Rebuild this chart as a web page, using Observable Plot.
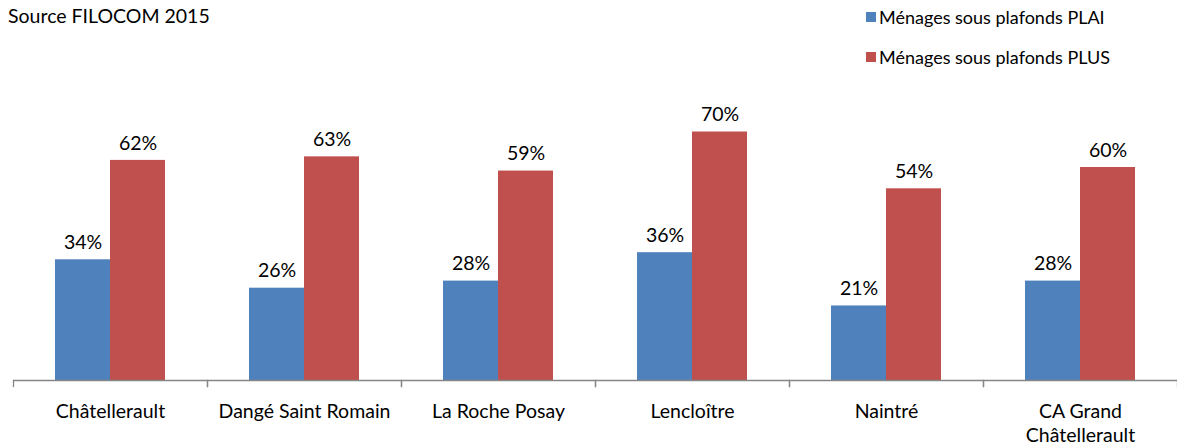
<!DOCTYPE html>
<html>
<head>
<meta charset="utf-8">
<script src="https://cdn.jsdelivr.net/npm/d3@7"></script>
<script src="https://cdn.jsdelivr.net/npm/@observablehq/plot@0.6"></script>
<style>
  html, body { margin: 0; padding: 0; background: #fff; }
  #wrap { position: relative; width: 1177px; height: 448px; overflow: hidden; font-family: Lato, "Noto Sans", sans-serif; color: #000; }
  #source { position: absolute; left: 8px; top: 4px; font-size: 19.5px; line-height: 24px; }
  .leg { position: absolute; left: 866px; font-size: 18px; line-height: 22px; display: flex; align-items: center; }
  .leg span.sw { display: inline-block; width: 10px; height: 10px; margin-right: 3px; }
  #chart { position: absolute; left: 0; top: 0; }
</style>
</head>
<body>
<div id="wrap">
  <div id="chart"></div>
  <div id="source">Source FILOCOM 2015</div>
  <div id="legend"></div>
</div>
<script>
const categories = ["Châtellerault", "Dangé Saint Romain", "La Roche Posay", "Lencloître", "Naintré", "CA Grand Châtellerault"];
const tickLabels = ["Châtellerault", "Dangé Saint Romain", "La Roche Posay", "Lencloître", "Naintré", "CA Grand\nChâtellerault"];
const series = ["Ménages sous plafonds PLAI", "Ménages sous plafonds PLUS"];
const plaiValues = [0.34, 0.26, 0.28, 0.36, 0.21, 0.28];
const plusValues = [0.62, 0.63, 0.59, 0.70, 0.54, 0.60];
const colors = ["#4F81BD", "#C0504D"];

const data = [];
categories.forEach((c, i) => {
  data.push({category: c, series: series[0], value: plaiValues[i]});
  data.push({category: c, series: series[1], value: plusValues[i]});
});
const labelOf = new Map(categories.map((c, i) => [c, tickLabels[i]]));

const chart = Plot.plot({
  width: 1177,
  height: 448,
  marginLeft: 12,
  marginRight: 0,
  marginTop: 96,
  marginBottom: 68,
  style: {fontFamily: "Lato, 'Noto Sans', sans-serif", fontSize: "16px", background: "transparent"},
  fx: {domain: categories, padding: 0, label: null, axis: null},
  x: {domain: series, paddingInner: 0, paddingOuter: 0.75, axis: null},
  y: {domain: [0, 0.8], axis: null},
  color: {domain: series, range: colors},
  marks: [
    Plot.barY(data, {fx: "category", x: "series", y: "value", fill: "series"}),
    Plot.text(data, {fx: "category", x: "series", y: "value", text: d => Math.round(d.value * 100) + "%", dy: -17, fontSize: 19.5, fill: "#000"}),
    Plot.ruleY([0], {stroke: "#868686", strokeWidth: 1.3}),
    Plot.frame({anchor: "left", stroke: "#868686", strokeWidth: 1.3, insetTop: 284, insetBottom: -6}),
    Plot.frame({anchor: "right", stroke: "#868686", strokeWidth: 1.3, insetTop: 284, insetBottom: -6}),
    Plot.axisFx({anchor: "bottom", tickSize: 0, tickPadding: 21, fontSize: 19.5, lineHeight: 1.2, tickFormat: d => labelOf.get(d), label: null})
  ]
});
document.getElementById("chart").appendChild(chart);

const legend = document.getElementById("legend");
series.forEach((s, i) => {
  const div = document.createElement("div");
  div.className = "leg";
  div.style.top = (6 + i * 40) + "px";
  div.innerHTML = `<span class="sw" style="background:${colors[i]}"></span><span>${s}</span>`;
  legend.appendChild(div);
});
</script>
</body>
</html>
